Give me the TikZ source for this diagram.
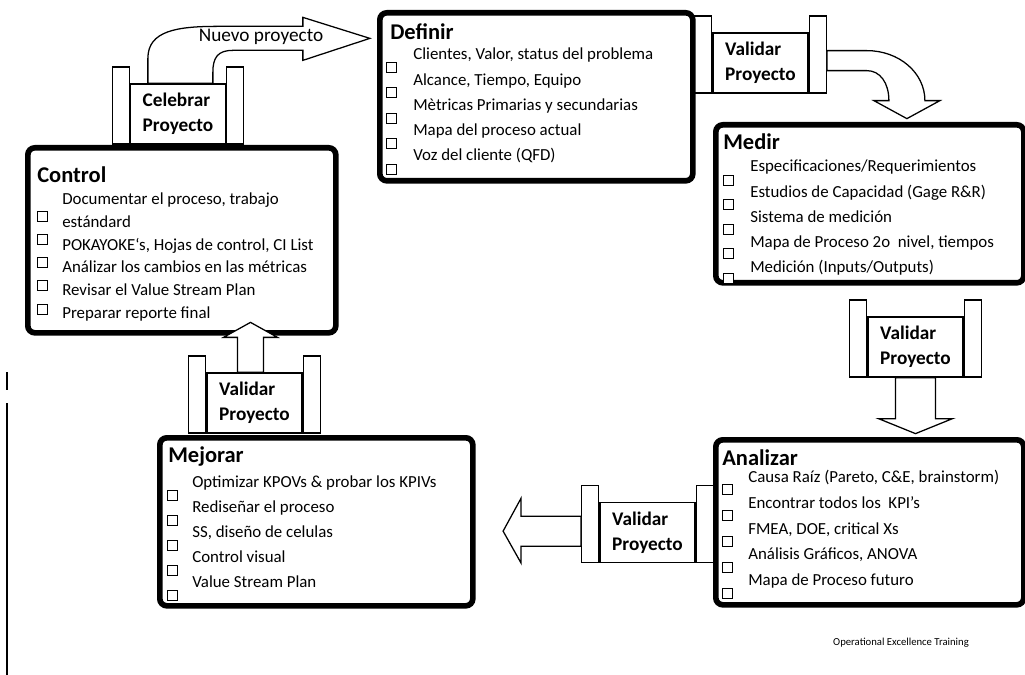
\documentclass[tikz,border=0pt]{standalone}
\usepackage{fontspec}
\setmainfont{Carlito}
\usepackage{tikz}
\newlength{\px}
\setlength{\px}{0.025cm}
\tikzset{
  phasebox/.style={draw, line width=4pt, rounded corners=5pt, fill=white, anchor=north west, inner sep=0pt},
  phasetitle/.style={anchor=west, inner sep=0pt, font=\fontsize{16}{19}\selectfont\bfseries},
  phaselist/.style={anchor=north west, inner sep=0pt, align=left, font=\fontsize{12}{17.8}\selectfont},
  gatebox/.style={draw, line width=0.9pt, fill=white, minimum width=95\px, minimum height=60\px, inner sep=0pt, align=left, font=\fontsize{13.7}{17.8}\selectfont\bfseries},
  gatepost/.style={draw, line width=0.9pt, fill=white, minimum width=17\px, minimum height=77\px, inner sep=0pt},
  blockarrow/.style={draw, line width=0.9pt, fill=white, line join=miter},
  checkbox/.style={draw, line width=0.6pt, fill=white}
}

\begin{document}
\begin{tikzpicture}[x=0.025cm, y=-0.025cm]
  \useasboundingbox (0,0) rectangle (1025,675);

  % gates between the phases
  \node[gatebox] (valA) at (760.5,63) {Validar\\Proyecto};
  \node[gatepost, anchor=south east] (valA-l) at (valA.south west) {};
  \node[gatepost, anchor=south west] (valA-r) at (valA.south east) {};
  \node[gatebox] (valB) at (915.5,347) {Validar\\Proyecto};
  \node[gatepost, anchor=south east] (valB-l) at (valB.south west) {};
  \node[gatepost, anchor=south west] (valB-r) at (valB.south east) {};
  \node[gatebox] (valC) at (647.5,532.5) {Validar\\Proyecto};
  \node[gatepost, anchor=south east] (valC-l) at (valC.south west) {};
  \node[gatepost, anchor=south west] (valC-r) at (valC.south east) {};
  \node[gatebox] (valD) at (254.5,403) {Validar\\Proyecto};
  \node[gatepost, anchor=south east] (valD-l) at (valD.south west) {};
  \node[gatepost, anchor=south west] (valD-r) at (valD.south east) {};
  \node[gatebox] (celebrar) at (178,114) {Celebrar\\Proyecto};
  \node[gatepost, anchor=south east] (celebrar-l) at (celebrar.south west) {};
  \node[gatepost, anchor=south west] (celebrar-r) at (celebrar.south east) {};

  % phases
  \node[phasebox, minimum width=313\px, minimum height=168\px] (definir) at (377,10) {};
  \node[phasebox, minimum width=308\px, minimum height=158\px] (medir) at (713,122) {};
  \node[phasebox, minimum width=308\px, minimum height=165\px] (analizar) at (713,437) {};
  \node[phasebox, minimum width=313\px, minimum height=168\px] (mejorar) at (157,435) {};
  \node[phasebox, minimum width=308\px, minimum height=185\px] (control) at (25,145) {};

  \node[phasetitle] (definir-title) at ([shift={(13,22)}]definir.north west) {Definir};
  \node[phaselist] (definir-list) at ([shift={(36,38)}]definir.north west) {Clientes, Valor, status del problema\\Alcance, Tiempo, Equipo\\Mètricas Primarias y secundarias\\Mapa del proceso actual\\Voz del cliente (QFD)};
  \foreach \k in {0,...,4}
    \draw[checkbox] ([shift={(9,52+25.5*\k)}]definir.north west) rectangle +(10,10);

  \node[phasetitle] (medir-title) at ([shift={(10,20)}]medir.north west) {Medir};
  \node[phaselist] (medir-list) at ([shift={(37,38)}]medir.north west) {Especificaciones/Requerimientos\\Estudios de Capacidad (Gage R\&R)\\Sistema de medición\\Mapa de Proceso 2o\ \ nivel, tiempos\\Medición (Inputs/Outputs)};
  \foreach \k in {0,...,4}
    \draw[checkbox] ([shift={(10,53+24.5*\k)}]medir.north west) rectangle +(10,10);

  \node[phasetitle] (analizar-title) at ([shift={(9,21)}]analizar.north west) {Analizar};
  \node[phaselist, font=\fontsize{12}{18.3}\selectfont] (analizar-list) at ([shift={(35,33)}]analizar.north west) {Causa Raíz (Pareto, C\&E, brainstorm)\\Encontrar todos los\ \ KPI’s\\FMEA, DOE, critical Xs\\Análisis Gráficos, ANOVA\\Mapa de Proceso futuro};
  \foreach \k in {0,...,4}
    \draw[checkbox] ([shift={(9,47+26*\k)}]analizar.north west) rectangle +(10,10);

  \node[phasetitle] (mejorar-title) at ([shift={(11,22)}]mejorar.north west) {Mejorar};
  \node[phaselist] (mejorar-list) at ([shift={(35,40)}]mejorar.north west) {Optimizar KPOVs \& probar los KPIVs\\Rediseñar el proceso\\SS, diseño de celulas\\Control visual\\Value Stream Plan};
  \foreach \k in {0,...,4}
    \draw[checkbox] ([shift={(10,55+25*\k)}]mejorar.north west) rectangle +(10,10);

  \node[phasetitle] (control-title) at ([shift={(12,30)}]control.north west) {Control};
  \node[phaselist, font=\fontsize{12}{16.1}\selectfont] (control-list) at ([shift={(37,48)}]control.north west) {Documentar el proceso, trabajo\\estándard\\POKAYOKE`s, Hojas de control, CI List\\Análizar los cambios en las métricas\\Revisar el Value Stream Plan\\Preparar reporte final};
  \foreach \k in {0,...,4}
    \draw[checkbox] ([shift={(12,66+23.3*\k)}]control.north west) rectangle +(10,10);

  % block arrows
  \draw[blockarrow] ([shift={(18,0)}]celebrar.north west) -- ++(0,-25) .. controls +(0,-28) and +(-40,0) .. ++(70,-32) -- ++(85,0) -- ++(0,-9) -- ++(67,21) -- ++(-67,22) -- ++(0,-10) -- ++(-70,0) .. controls +(-15,0) and +(0,-15) .. ++(-20,22) -- ++(0,11) -- cycle;
  \node[inner sep=0pt, font=\fontsize{13.7}{16}\selectfont] (nuevo) at (261,37) {Nuevo proyecto};
  \draw[blockarrow] ([shift={(0,-43)}]valA-r.south east) -- ++(40,0) .. controls +(32,0) and +(0,-28) .. ++(58,50) -- ++(15,0) -- ++(-33,18) -- ++(-33,-18) -- ++(15,0) .. controls +(0,-18) and +(13,0) .. ++(-22,-30) -- ++(-40,0) -- cycle;
  \draw[blockarrow] ([shift={(-20,0)}]valB.south) -- ++(0,41) -- ++(-17,0) -- ++(37,15) -- ++(37,-15) -- ++(-17,0) -- ++(0,-41) -- cycle;
  \draw[blockarrow] ([shift={(0,-17)}]valC-l.south west) -- ++(-60,0) -- ++(0,17) -- ++(-18,-32) -- ++(18,-33) -- ++(0,18) -- ++(60,0) -- cycle;
  \draw[blockarrow] ([shift={(-17,0)}]valD.north) -- ++(0,-35) -- ++(-14,0) -- ++(27,-15) -- ++(27,15) -- ++(-14,0) -- ++(0,35) -- cycle;

  \node[font=\fontsize{7.6}{9}\selectfont] (footer) at (901,643) {Operational Excellence Training};
  \draw[line width=0.9pt] (7,372) -- (7,390) (7,403) -- (7,675);
\end{tikzpicture}
\end{document}
